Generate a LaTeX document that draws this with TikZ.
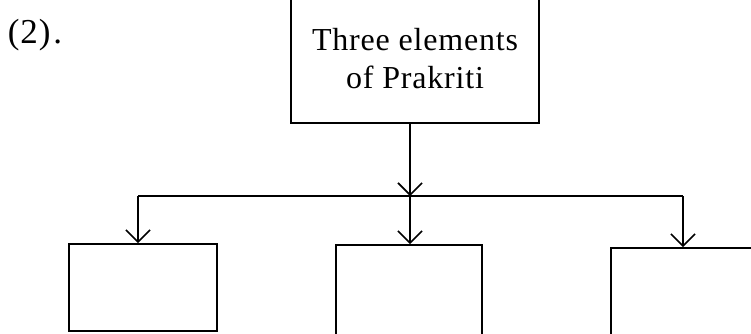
\documentclass[tikz,border=0pt]{standalone}
\usepackage{fontspec}
\setmainfont[LetterSpace=2.5]{Liberation Serif}
\usetikzlibrary{arrows.meta}
\begin{document}
\begin{tikzpicture}[x=1pt,y=-1pt,
  line width=1.8pt,
  box/.style={draw, rectangle, inner sep=0pt, line width=1.8pt},
  lbl/.style={font=\fontsize{32}{38}\selectfont, inner sep=0pt},
  arr/.style={-{Straight Barb[length=12pt,width=24pt,line width=1.6pt]}}
]
\useasboundingbox (0,0) rectangle (751,333);
\clip (0,0) rectangle (751,333);
\node[lbl, font=\fontsize{35}{40}\selectfont, anchor=base west] (num) at (7,43) {(2)\kern3pt.};
\node[box, minimum width=248pt, minimum height=128pt, align=center, lbl, draw] (top) at (415,59)
  {Three elements\\of Prakriti};
\node[box, minimum width=148pt, minimum height=87pt] (b1) at (143,287.5) {};
\node[box, minimum width=146pt, minimum height=96pt] (b2) at (409,293) {};
\node[box, minimum width=149pt, minimum height=92pt] (b3) at (685.5,294) {};
\coordinate (j) at (410,196);
\coordinate (jl) at (138,196);
\coordinate (jr) at (683,196);
\draw[arr] (top.south -| j) -- (j);
\draw (jl) -- (jr);
\draw[arr] (jl) -- (b1.north -| jl);
\draw[arr] (j) -- (b2.north -| j);
\draw[arr] (jr) -- (b3.north -| jr);
\end{tikzpicture}
\end{document}
